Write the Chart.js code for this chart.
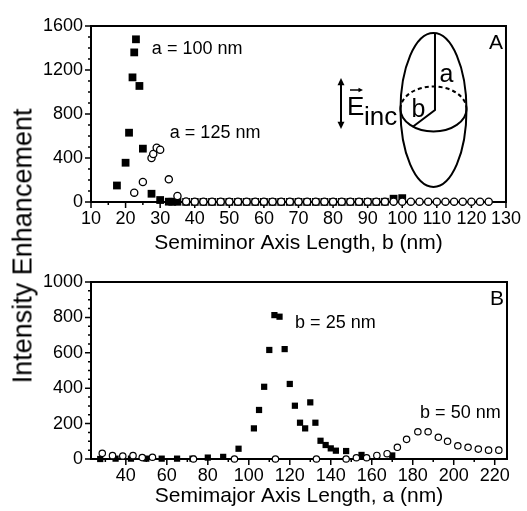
<!DOCTYPE html>
<html>
<head>
<meta charset="utf-8">
<script src="https://cdn.jsdelivr.net/npm/chart.js@4/dist/chart.umd.min.js"></script>
<style>
body { margin: 0; background: #fff; }
#marcoGraf { position: relative; width: 527px; height: 511px; }
#grafA { position: absolute; left: 0; top: 0; }
#grafB { position: absolute; left: 0; top: 255px; }
#tituloY {
    position: absolute; left: 23px; top: 246px;
    transform: translate(-50%, -50%) rotate(-90deg);
    font: 27px "Liberation Sans", Arial, sans-serif; line-height: 1;
    white-space: nowrap; color: #000;
}
</style>
</head>
<body>
<div id="marcoGraf">
    <canvas id="grafA" width="527" height="255"></canvas>
    <canvas id="grafB" width="527" height="256"></canvas>
    <div id="tituloY">Intensity Enhancement</div>
</div>
<script>
// Panel A: semieje menor b (nm) e intensidad
var b_a100 = [17.5, 20, 21, 22, 22.5, 23, 24, 25, 27.5, 30, 32.5, 33.5, 35, 37.5, 40, 42.5, 45, 47.5, 50,
    52.5, 55, 57.5, 60, 62.5, 65, 67.5, 70, 72.5, 75, 77.5, 80, 82.5, 85, 87.5, 90, 92.5, 95, 97.5, 100];
var int_a100 = [150, 357, 630, 1133, 1360, 1479, 1055, 485, 75, 18, 3, 2, 2, 1, 1, 1, 1, 1, 1,
    1, 1, 1, 1, 1, 1, 1, 1, 1, 1, 1, 1, 1, 1, 1, 1, 1, 2, 30, 35];
var b_a125 = [22.5, 25, 27.5, 28, 29, 30, 32.5, 35, 37.5, 40, 42.5, 45, 47.5, 50, 52.5, 55, 57.5, 60,
    62.5, 65, 67.5, 70, 72.5, 75, 77.5, 80, 82.5, 85, 87.5, 90, 92.5, 95, 97.5, 100, 102.5, 105,
    107.5, 110, 112.5, 115, 117.5, 120, 122.5, 125];
var int_a125 = [85, 182, 400, 436, 494, 475, 206, 55, 5, 3, 3, 3, 3, 3, 3, 3, 3, 3,
    3, 3, 3, 3, 3, 3, 3, 3, 3, 3, 3, 3, 3, 3, 3, 3, 3, 3,
    3, 3, 3, 3, 3, 3, 3, 3];

// Panel B: semieje mayor a (nm) e intensidad
var a_b25 = [27.5, 35, 42.5, 50, 57.5, 65, 72.5, 80, 87.5, 95, 102.5, 105, 107.5, 110, 112.5, 115, 117.5,
    120, 122.5, 125, 127.5, 130, 132.5, 135, 137.5, 140, 142.5, 147.5, 155, 170];
var int_b25 = [0, 2, 2, 2, 2, 2, 2, 8, 12, 58, 173, 277, 408, 616, 813, 804, 621,
    424, 301, 205, 173, 320, 205, 103, 79, 60, 47, 45, 23, 20];
var a_b50 = [28.5, 33.5, 38.5, 43.5, 48, 53, 73, 93, 113, 133, 147.5, 152.5, 157.5, 162.5, 167.5,
    172.5, 177, 182.5, 187.5, 192.5, 197, 202, 207, 212, 217, 222];
var int_b50 = [32, 19, 17, 19, 8, 10, 0, 0, 0, 0, 0, 7, 7, 20, 30,
    66, 111, 154, 154, 123, 100, 75, 66, 56, 50, 50];

Chart.defaults.font.family = '"Liberation Sans", Arial, sans-serif';
Chart.defaults.color = '#000';

function juntar(xs, ys) {
    var puntos = [];
    for (var i = 0; i < xs.length; i++) {
        puntos.push({ x: xs[i], y: ys[i] });
    }
    return puntos;
}

// marco del grafico y marcas de los ejes (mayores y menores)
var marco = {
    id: 'marco',
    beforeDatasetsDraw: function (chart, args, opts) {
        var ctx = chart.ctx;
        var area = chart.chartArea;
        var ex = chart.scales.x;
        var ey = chart.scales.y;
        var v, p, largo;
        ctx.save();
        ctx.strokeStyle = '#000';
        ctx.lineWidth = 2;
        ctx.strokeRect(area.left, area.top, area.right - area.left, area.bottom - area.top);
        ctx.lineWidth = 1.5;
        ctx.beginPath();
        for (v = Math.ceil(ex.min / opts.xMenor) * opts.xMenor; v <= ex.max; v += opts.xMenor) {
            p = ex.getPixelForValue(v);
            largo = (v % opts.xMayor === 0) ? 6 : 3;
            ctx.moveTo(p, area.bottom);
            ctx.lineTo(p, area.bottom + largo);
        }
        for (v = Math.ceil(ey.min / opts.yMenor) * opts.yMenor; v <= ey.max; v += opts.yMenor) {
            p = ey.getPixelForValue(v);
            largo = (v % opts.yMayor === 0) ? 6 : 3;
            ctx.moveTo(area.left, p);
            ctx.lineTo(area.left - largo, p);
        }
        ctx.stroke();
        ctx.restore();
    }
};

function flecha(ctx, x1, y1, x2, y2, tam) {
    var ang = Math.atan2(y2 - y1, x2 - x1);
    ctx.beginPath();
    ctx.moveTo(x2, y2);
    ctx.lineTo(x2 - tam * Math.cos(ang - 0.45), y2 - tam * Math.sin(ang - 0.45));
    ctx.lineTo(x2 - tam * Math.cos(ang + 0.45), y2 - tam * Math.sin(ang + 0.45));
    ctx.closePath();
    ctx.fill();
}

function dibujo_elipsoide(ctx, area) {
    var cx = area.right - 72.5;
    var cy = area.top + 84;
    ctx.save();
    ctx.strokeStyle = '#000';
    ctx.fillStyle = '#000';
    ctx.lineWidth = 2;
    // elipsoide
    ctx.beginPath();
    ctx.ellipse(cx, cy, 33, 77, 0, 0, Math.PI * 2);
    ctx.stroke();
    // ecuador: mitad de abajo continua, mitad de arriba a trazos
    ctx.beginPath();
    ctx.ellipse(cx, cy - 1, 33, 22.5, 0, 0, Math.PI);
    ctx.stroke();
    ctx.setLineDash([4, 3]);
    ctx.beginPath();
    ctx.ellipse(cx, cy - 1, 33, 22.5, 0, Math.PI, Math.PI * 2);
    ctx.stroke();
    ctx.setLineDash([]);
    // semiejes
    ctx.beginPath();
    ctx.moveTo(cx + 1.5, cy - 77);
    ctx.lineTo(cx + 1.5, cy);
    ctx.lineTo(cx - 21, cy + 17);
    ctx.stroke();
    ctx.font = '25px "Liberation Sans", Arial, sans-serif';
    ctx.textBaseline = 'alphabetic';
    ctx.textAlign = 'left';
    ctx.fillText('a', cx + 6, cy - 28);
    ctx.fillText('b', cx - 22, cy + 7);
    // campo incidente
    var fx = area.left + 250;
    ctx.beginPath();
    ctx.moveTo(fx, area.top + 57);
    ctx.lineTo(fx, area.top + 97);
    ctx.stroke();
    flecha(ctx, fx, area.top + 70, fx, area.top + 52, 8);
    flecha(ctx, fx, area.top + 85, fx, area.top + 103, 8);
    ctx.font = '26px "Liberation Sans", Arial, sans-serif';
    ctx.fillText('E', fx + 6, area.top + 89);
    ctx.fillText('inc', fx + 23, area.top + 99);
    ctx.lineWidth = 1.5;
    ctx.beginPath();
    ctx.moveTo(fx + 9, area.top + 64);
    ctx.lineTo(fx + 19, area.top + 64);
    ctx.stroke();
    flecha(ctx, fx + 14, area.top + 64, fx + 22, area.top + 64, 5);
    ctx.restore();
}

// rotulos dentro del grafico
var rotulos = {
    id: 'rotulos',
    afterDatasetsDraw: function (chart, args, opts) {
        var ctx = chart.ctx;
        var area = chart.chartArea;
        var ex = chart.scales.x;
        var ey = chart.scales.y;
        ctx.save();
        ctx.fillStyle = '#000';
        ctx.textBaseline = 'middle';
        ctx.textAlign = 'left';
        ctx.font = '18px "Liberation Sans", Arial, sans-serif';
        opts.notas.forEach(function (nota) {
            ctx.fillText(nota.texto, ex.getPixelForValue(nota.x), ey.getPixelForValue(nota.y));
        });
        ctx.textAlign = 'right';
        ctx.font = '21px "Liberation Sans", Arial, sans-serif';
        ctx.fillText(opts.panel, area.right - 3, area.top + 17);
        ctx.restore();
        if (opts.elipsoide) {
            dibujo_elipsoide(ctx, area);
        }
    }
};

function opciones_eje(min, max, paso, mayor, relleno, ajuste, titulo) {
    var eje = {
        type: 'linear',
        min: min,
        max: max,
        afterFit: ajuste,
        grid: { display: false, drawTicks: false },
        border: { display: false },
        ticks: {
            stepSize: paso,
            includeBounds: false,
            autoSkip: false,
            maxRotation: 0,
            padding: relleno,
            color: '#000',
            font: { size: 18 },
            callback: function (v) { return (v % mayor === 0) ? v : ''; }
        }
    };
    if (titulo) {
        eje.title = titulo;
    }
    return eje;
}

function grafica(idCanvas, series, ejes, margenTop, rot, marcas) {
    return new Chart(document.getElementById(idCanvas), {
        type: 'scatter',
        data: { datasets: series },
        options: {
            responsive: false,
            animation: false,
            layout: { padding: { top: margenTop, right: 20, left: 0, bottom: 0 } },
            plugins: {
                legend: { display: false },
                tooltip: { enabled: false },
                marco: marcas,
                rotulos: rot
            },
            scales: ejes
        },
        plugins: [marco, rotulos]
    });
}

// los circulos van encima de los cuadrados (order menor = se dibuja despues)
var graficaA = grafica('grafA', [
    {
        label: 'a = 100 nm', data: juntar(b_a100, int_a100), pointStyle: 'rect', pointRadius: 5.5,
        backgroundColor: '#000', borderColor: '#000', borderWidth: 0, clip: false, order: 2
    },
    {
        label: 'a = 125 nm', data: juntar(b_a125, int_a125), pointStyle: 'circle', pointRadius: 3.6,
        backgroundColor: '#fff', borderColor: '#000', borderWidth: 1.3, clip: false, order: 1
    }
], {
    x: opciones_eje(10, 130, 5, 10, 6, function (s) { s.height = 53; }, {
        display: true, text: 'Semiminor Axis Length, b (nm)', color: '#000',
        font: { size: 21, lineHeight: 1 }, padding: { top: 0, bottom: 1 }
    }),
    y: opciones_eje(0, 1600, 100, 400, 8, function (s) { s.width = 91; })
}, 26, {
    panel: 'A', elipsoide: true,
    notas: [
        { texto: 'a = 100 nm', x: 27.6, y: 1390 },
        { texto: 'a = 125 nm', x: 32.8, y: 627 }
    ]
}, { xMenor: 5, xMayor: 10, yMenor: 100, yMayor: 400 });

var graficaB = grafica('grafB', [
    {
        label: 'b = 25 nm', data: juntar(a_b25, int_b25), pointStyle: 'rect', pointRadius: 4.4,
        backgroundColor: '#000', borderColor: '#000', borderWidth: 0, clip: false, order: 2
    },
    {
        label: 'b = 50 nm', data: juntar(a_b50, int_b50), pointStyle: 'circle', pointRadius: 3.2,
        backgroundColor: '#fff', borderColor: '#000', borderWidth: 1.2, clip: false, order: 1
    }
], {
    x: opciones_eje(23, 226, 10, 20, 6, function (s) { s.height = 52; }, {
        display: true, text: 'Semimajor Axis Length, a (nm)', color: '#000',
        font: { size: 21, lineHeight: 1 }, padding: { top: 0, bottom: 4 }
    }),
    y: opciones_eje(0, 1000, 50, 200, 8, function (s) { s.width = 91; })
}, 27, {
    panel: 'B', elipsoide: false,
    notas: [
        { texto: 'b = 25 nm', x: 122.6, y: 768 },
        { texto: 'b = 50 nm', x: 183.6, y: 260 }
    ]
}, { xMenor: 10, xMayor: 20, yMenor: 50, yMayor: 200 });
</script>
</body>
</html>
